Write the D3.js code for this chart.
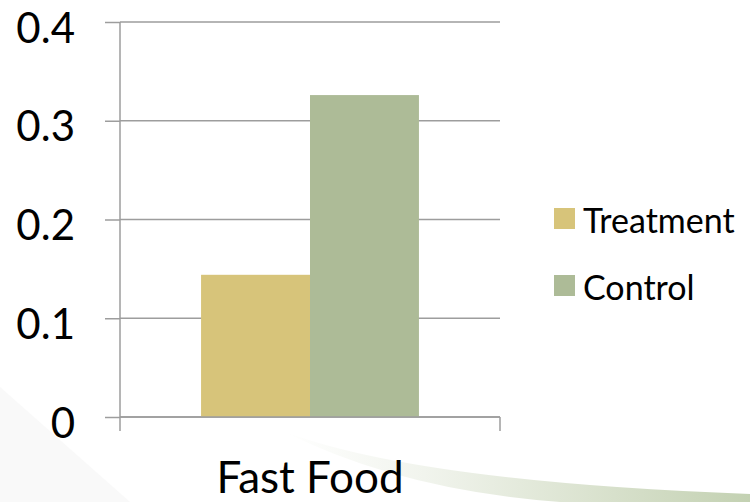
<!DOCTYPE html>
<html>
<head>
<meta charset="utf-8">
<script src="https://cdn.jsdelivr.net/npm/d3@7"></script>
<style>
  html, body { margin: 0; padding: 0; background: #fff; }
  svg { display: block; }
  svg text { font-family: Lato, "Open Sans", sans-serif; }
</style>
</head>
<body>
<svg id="chart" width="750" height="502"></svg>
<script>
// data
const categories = ['Fast Food']
const seriesNames = ['Treatment', 'Control']
const treatment = [0.144]
const control = [0.326]
const yTicks = [0, 0.1, 0.2, 0.3, 0.4]
const colors = ['#d7c47a', '#adbb97']

const svg = d3.select('#chart')
const width = 750, height = 502
const margin = {top: 22, left: 120, right: 250, bottom: 85}
const grey = '#9d9d9d'

// faint slide background shapes
const defs = svg.append('defs')
const grad = defs.append('linearGradient').attr('id', 'swoosh')
    .attr('x1', '0%').attr('x2', '100%').attr('y1', '0%').attr('y2', '0%')
grad.append('stop').attr('offset', '0%').attr('stop-color', '#ffffff')
grad.append('stop').attr('offset', '30%').attr('stop-color', '#f1f4ed')
grad.append('stop').attr('offset', '65%').attr('stop-color', '#dbe3d0')
grad.append('stop').attr('offset', '100%').attr('stop-color', '#c3d1b2')

svg.append('path')
    .attr('d', 'M0,387 L130,502 L0,502 Z')
    .attr('fill', '#f9f9f9')

svg.append('path')
    .attr('d', 'M285,432 Q420,482 750,494 L750,502 L560,502 Q400,490 285,432 Z')
    .attr('fill', 'url(#swoosh)')

const y = d3.scaleLinear()
    .domain([0, 0.4])
    .range([height - margin.bottom, margin.top])

const x0 = d3.scaleBand()
    .domain(categories)
    .range([margin.left, width - margin.right])
    .paddingInner(0)
    .paddingOuter(0.372)

const x1 = d3.scaleBand()
    .domain(seriesNames)
    .range([0, x0.bandwidth()])

// horizontal gridlines
svg.append('g').selectAll('line').data(yTicks).enter().append('line')
    .attr('x1', margin.left).attr('x2', width - margin.right)
    .attr('y1', d => y(d)).attr('y2', d => y(d))
    .attr('stroke', grey).attr('stroke-width', 1.5)

// y axis with outside tick marks
const gy = svg.append('g')
    .attr('transform', `translate(${margin.left},0)`)
    .call(d3.axisLeft(y)
        .tickValues(yTicks)
        .tickFormat(d => d === 0 ? '0' : d3.format('.1f')(d))
        .tickSize(15)
        .tickSizeOuter(0)
        .tickPadding(30))
gy.attr('font-family', null).attr('font-size', null)
gy.select('.domain').remove()
gy.selectAll('.tick line').attr('stroke', grey).attr('stroke-width', 1.5)
gy.selectAll('.tick text')
    .attr('dy', '20px')
    .attr('font-size', 42)
    .attr('fill', '#000')

// y axis line
svg.append('line')
    .attr('x1', margin.left).attr('x2', margin.left)
    .attr('y1', margin.top).attr('y2', y(0) + 14)
    .attr('stroke', grey).attr('stroke-width', 1.5)
// right end tick on x axis
svg.append('line')
    .attr('x1', width - margin.right).attr('x2', width - margin.right)
    .attr('y1', y(0)).attr('y2', y(0) + 14)
    .attr('stroke', grey).attr('stroke-width', 1.5)

// bars
const rows = categories.map((c, i) => ({cat: c, vals: [treatment[i], control[i]]}))
const groups = svg.append('g').selectAll('g').data(rows).enter().append('g')
    .attr('transform', d => `translate(${x0(d.cat)},0)`)
groups.selectAll('rect')
    .data(d => d.vals.map((v, j) => ({name: seriesNames[j], v: v, c: colors[j]})))
    .enter().append('rect')
    .attr('x', d => x1(d.name))
    .attr('width', x1.bandwidth())
    .attr('y', d => y(d.v))
    .attr('height', d => y(0) - y(d.v))
    .attr('fill', d => d.c)

// baseline over the bars
svg.append('line')
    .attr('x1', margin.left).attr('x2', width - margin.right)
    .attr('y1', y(0)).attr('y2', y(0))
    .attr('stroke', grey).attr('stroke-width', 1.5)

// category label
svg.append('g').selectAll('text').data(categories).enter().append('text')
    .attr('x', d => x0(d) + x0.bandwidth() / 2)
    .attr('y', 493)
    .attr('text-anchor', 'middle')
    .attr('font-size', 44)
    .attr('fill', '#000')
    .text(d => d)

// legend
const legend = svg.append('g').selectAll('g').data(seriesNames).enter().append('g')
    .attr('transform', (d, i) => `translate(554,${208 + i * 67})`)
legend.append('rect')
    .attr('width', 21).attr('height', 21)
    .attr('fill', (d, i) => colors[i])
legend.append('text')
    .attr('x', 29).attr('y', 25)
    .attr('font-size', 34)
    .attr('fill', '#000')
    .text(d => d)
</script>
</body>
</html>
